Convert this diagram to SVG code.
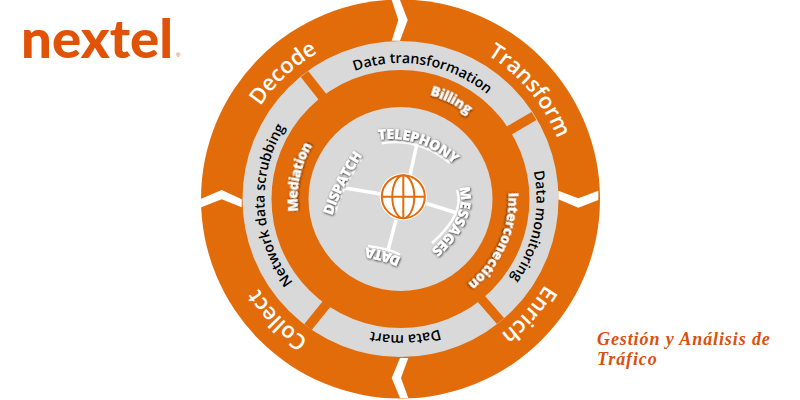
<svg xmlns="http://www.w3.org/2000/svg" width="800" height="400" viewBox="0 0 800 400">
<style>
.outer{font:600 22px "Open Sans",sans-serif;fill:#fff;text-anchor:middle}
.mid{font:600 14.2px "Open Sans",sans-serif;fill:#000;text-anchor:middle}
.in{font:800 14px "Open Sans",sans-serif;letter-spacing:-.5px;fill:#fff;text-anchor:middle;filter:url(#sh)}
.svc{font:800 14px "Open Sans",sans-serif;letter-spacing:-.4px;fill:#fff;text-anchor:middle;filter:url(#sh)}
.w{fill:#fff}
.sep{stroke:#E36C0A;stroke-width:9.5;fill:none}
.spoke{stroke:#fff;stroke-width:3.5;fill:none}
.globe{stroke:#E36C0A;stroke-width:2;fill:none}
.cap{font:italic 700 18px "Liberation Serif",serif;letter-spacing:.9px;fill:#D9500F}
</style>
<defs>
<filter id="sh" x="-20%" y="-20%" width="140%" height="140%"><feDropShadow dx="0.6" dy="0.8" stdDeviation="0.8" flood-color="#000" flood-opacity="0.85"/></filter>
<path id="r168" d="M400.5 367A168 168 0 1 1 400.5 31A168 168 0 1 1 400.5 367"/>
<path id="r136" d="M400.5 335A136 136 0 1 1 400.5 63A136 136 0 1 1 400.5 335"/>
<path id="r105" d="M400.5 304A105 105 0 1 1 400.5 94A105 105 0 1 1 400.5 304"/>
<path id="pT" d="M378 142Q418 136 453 166"/>
<path id="pD" d="M333 217Q341.5 188.5 364 155"/>
<path id="pM" d="M455 183Q470 213 426 252"/>
<path id="pA" d="M404 257Q392 249.500 364 245"/>
</defs>
<g id="wheel">
<circle cx="400.500" cy="199" r="199.500" fill="#E36C0A"/>
<circle cx="400.500" cy="199" r="143.500" fill="none" stroke="#D9D9D9" stroke-width="29"/>
<circle cx="400.500" cy="199" r="92" fill="#D9D9D9"/>
</g>
<g id="connectors">
<path class="sep" d="M304.500 74L323 97.500"/>
<path class="sep" d="M534 116L508.500 131"/>
<path class="sep" d="M481 298.500L500.500 321"/>
<path class="sep" d="M327 303.500L308 327"/>
<path class="w" d="M391.700 0L398.300 20L391.700 40.700H400L407.700 20L400 0Z"/>
<path class="w" d="M400 358L391.700 378L400 398H408.300L401 378L408.300 358Z"/>
<path class="w" d="M200 199.300L221.700 190L241.700 199.300V207.300L221.700 199.300L200 207.700Z"/>
<path class="w" d="M558.300 190.700L578.300 198.300L598.300 190.700V200L578.300 207.700L558.300 199.300Z"/>
<path class="spoke" d="M416.700 145L410 175M345 188L381 194M456.700 213L425 203M388 250L396 220"/>
<path class="spoke" style="stroke-width:2.500" d="M381.700 143.300Q418 137 450 163M335 213Q341.500 188.500 362 158M457 190Q465.500 213.500 432 243M400 255Q392 249.500 368 246"/>
</g>
<g id="logo"><text x="21" y="58" style="font:900 54px Lato,sans-serif;fill:#E05206" textLength="152" lengthAdjust="spacingAndGlyphs">nextel</text><text x="176" y="57" style="font:6px 'Liberation Sans',sans-serif;fill:#E05206">®</text></g>
<g id="decode"><text class="outer" transform="rotate(-43 400.500 199)"><textPath href="#r168" startOffset="50%">Decode</textPath></text></g>
<g id="transform"><text class="outer" transform="rotate(50 400.500 199)"><textPath href="#r168" startOffset="50%">Transform</textPath></text></g>
<g id="enrich"><text class="outer" transform="rotate(132 400.500 199)"><textPath href="#r168" startOffset="50%">Enrich</textPath></text></g>
<g id="collect"><text class="outer" transform="rotate(225.500 400.500 199)"><textPath href="#r168" startOffset="50%">Collect</textPath></text></g>
<g id="data-transformation"><text class="mid" transform="rotate(10 400.500 199)"><textPath href="#r136" startOffset="50%">Data transformation</textPath></text></g>
<g id="data-monitoring"><text class="mid" transform="rotate(102 400.500 199)"><textPath href="#r136" startOffset="50%">Data monitoring</textPath></text></g>
<g id="data-mart"><text class="mid" transform="rotate(178 400.500 199)"><textPath href="#r136" startOffset="50%">Data mart</textPath></text></g>
<g id="network-data-scrubbing"><text class="mid" transform="rotate(267 400.500 199)"><textPath href="#r136" startOffset="50%">Network data scrubbing</textPath></text></g>
<g id="billing"><text class="in" dy="-3" transform="rotate(27 400.500 199)"><textPath href="#r105" startOffset="50%">Billing</textPath></text></g>
<g id="interconection"><text class="in" dy="-3" transform="rotate(114 400.500 199)"><textPath href="#r105" startOffset="50%">Interconection</textPath></text></g>
<g id="mediation"><text class="in" dy="2" transform="rotate(282 400.500 199)"><textPath href="#r105" startOffset="50%">Mediation</textPath></text></g>
<g id="telephony"><text class="svc" dy="-2"><textPath href="#pT" startOffset="50%">TELEPHONY</textPath></text></g>
<g id="dispatch"><text class="svc" dy="-1"><textPath href="#pD" startOffset="50%">DISPATCH</textPath></text></g>
<g id="messages"><text class="svc" dy="-2"><textPath href="#pM" startOffset="50%">MESSAGES</textPath></text></g>
<g id="data"><text class="svc" dy="-2"><textPath href="#pA" startOffset="50%">DATA</textPath></text></g>
<g id="globe">
<circle cx="403.300" cy="196.700" r="23.500" fill="#fff"/>
<circle class="globe" cx="403.300" cy="196.700" r="21.500"/>
<path class="globe" d="M403.300 175.200V218.200M381.800 196.700H424.800"/>
<ellipse class="globe" cx="403.300" cy="196.700" rx="11" ry="21.500"/>
</g>
<g id="caption"><text class="cap" x="597" y="345">Gestión y Análisis de</text><text class="cap" x="597" y="365">Tráfico</text></g>
</svg>
